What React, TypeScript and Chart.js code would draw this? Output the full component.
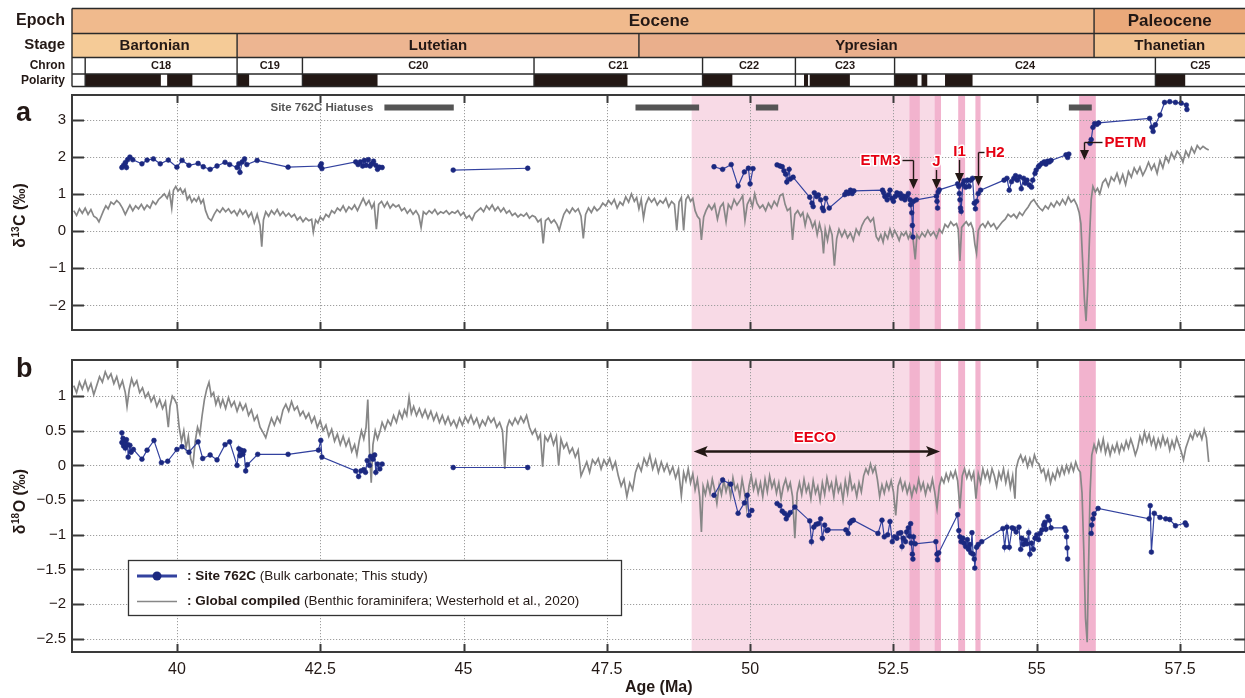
import React, { useEffect, useRef } from 'react';
import { Chart, registerables } from 'chart.js';
Chart.register(...registerables);

const FONT = '"Liberation Sans", Arial, Helvetica, sans-serif';
Chart.defaults.font.family = FONT;

// ---------- axes ----------
const AGE_MIN = 38.17;
const AGE_MAX = 58.64;
const AGE_TICKS = [40, 42.5, 45, 47.5, 50, 52.5, 55, 57.5];
const D13C_MIN = -2.66;
const D13C_MAX = 3.66;
const D13C_TICKS = [-2, -1, 0, 1, 2, 3];
const D18O_MIN = -2.69;
const D18O_MAX = 1.52;
const D18O_TICKS = [-2.5, -2, -1.5, -1, -0.5, 0, 0.5, 1];

// ---------- timescale ----------
const EPOCH_NAMES = ['Eocene', 'Paleocene'];
const EPOCH_EDGES = [AGE_MIN, 56.0, AGE_MAX];
const EOCENE_LABEL_AGE = 48.41;
const STAGE_NAMES = ['Bartonian', 'Lutetian', 'Ypresian', 'Thanetian'];
const STAGE_EDGES = [AGE_MIN, 41.05, 48.06, 56.0, AGE_MAX];
const CHRON_NAMES = ['', 'C18', 'C19', 'C20', 'C21', 'C22', 'C23', 'C24', 'C25'];
const CHRON_EDGES = [AGE_MIN, 38.4, 41.05, 42.19, 46.23, 49.17, 50.79, 52.52, 57.07, AGE_MAX];
const NORMAL_POLARITY = [
  [38.4, 39.72], [39.83, 40.27], [41.05, 41.26], [42.19, 43.5], [46.23, 47.86], [49.17, 49.69],
  [50.94, 51.01], [51.04, 51.74], [52.52, 52.92], [52.99, 53.09], [53.4, 53.88], [57.07, 57.59],
];
const HIATUSES = [[43.62, 44.83], [48.0, 49.11], [50.1, 50.49], [55.56, 55.96]];
const EECO_RANGE = [48.98, 53.33];
const EVENT_BANDS = [[52.78, 52.96], [53.22, 53.33], [53.63, 53.75], [53.93, 54.02], [55.74, 56.03]];
const EVENT_NAMES = ['ETM3', 'J', 'I1', 'H2', 'PETM'];
const EVENT_AGES = [52.84, 53.25, 53.64, 53.97, 55.83];

// ---------- Site 762C (bulk carbonate) ----------
type P = [number, number] | null;
const SITE_D13C: P[] = [
  [39.04,1.71],[39.07,1.77],[39.1,1.84],[39.12,1.71],[39.14,1.92],[39.18,1.99],[39.23,1.92],[39.39,1.81],[39.48,1.91],[39.59,1.94],[39.71,1.81],[39.85,1.91],[40.0,1.72],[40.09,1.9],[40.21,1.77],[40.37,1.82],[40.46,1.73],[40.58,1.66],[40.7,1.75],[40.84,1.85],[40.92,1.79],[41.05,1.71],[41.08,1.81],[41.1,1.58],[41.14,1.86],[41.18,1.94],[41.22,1.79],[41.4,1.9],[41.94,1.72],[42.5,1.75],[42.52,1.81],[42.53,1.68],[43.12,1.86],[43.16,1.79],[43.2,1.86],[43.24,1.75],[43.27,1.9],[43.3,1.77],[43.34,1.92],[43.37,1.75],[43.4,1.81],[43.43,1.88],[43.47,1.77],[43.5,1.66],[43.53,1.72],[43.58,1.71],
  null,
  [44.82,1.64],[46.12,1.69],
  null,
  [49.37,1.73],[49.52,1.66],[49.67,1.79],[49.79,1.21],[49.9,1.59],[49.97,1.69],[50.0,1.27],[50.05,1.68],
  null,
  [50.47,1.78],[50.52,1.75],[50.56,1.73],[50.59,1.62],[50.62,1.53],[50.64,1.32],[50.68,1.66],[50.7,1.4],[50.75,1.45],[51.04,0.91],[51.08,0.75],[51.1,0.66],[51.12,1.03],[51.16,0.93],[51.19,0.97],[51.23,0.84],[51.26,0.62],[51.28,0.55],[51.32,0.88],[51.38,0.62],[51.65,0.98],[51.68,1.05],[51.71,1.01],[51.75,1.1],[51.78,1.01],[51.81,1.08],[52.31,1.1],[52.33,1.03],[52.35,0.93],[52.39,0.84],[52.41,0.97],[52.44,1.1],[52.47,0.88],[52.5,0.8],[52.53,0.93],[52.56,1.03],[52.59,0.97],[52.62,1.01],[52.64,0.88],[52.67,0.94],[52.7,0.84],[52.73,0.93],[52.76,1.01],[52.79,0.84],[52.8,0.71],[52.82,0.49],[52.83,0.15],[52.84,-0.16],[52.85,0.8],[52.9,0.84],[53.25,0.94],[53.26,0.8],[53.27,0.62],[53.28,1.05],[53.3,1.11],[53.62,1.27],[53.64,1.2],[53.65,1.01],[53.66,0.84],[53.67,0.62],[53.68,0.53],[53.71,1.26],[53.73,1.35],[53.76,1.18],[53.79,1.37],[53.82,1.2],[53.85,1.37],[53.88,1.42],[53.91,0.75],[53.93,0.6],[53.95,0.8],[53.98,1.01],[54.02,1.1],[54.43,1.37],[54.48,1.42],[54.52,1.1],[54.56,1.33],[54.6,1.42],[54.63,1.49],[54.66,1.37],[54.7,1.46],[54.73,1.14],[54.77,1.42],[54.8,1.29],[54.83,1.37],[54.87,1.24],[54.91,1.18],[54.93,1.37],[54.97,1.55],[54.99,1.64],[55.03,1.73],[55.05,1.77],[55.09,1.82],[55.13,1.86],[55.16,1.8],[55.19,1.88],[55.22,1.86],[55.25,1.9],[55.51,2.05],[55.54,1.98],[55.56,2.07],
  null,
  [55.93,2.36],[55.95,2.46],[55.98,2.79],[56.01,2.89],[56.05,2.87],[56.08,2.91],[56.97,3.03],[57.01,2.79],[57.03,2.68],[57.07,2.86],[57.15,3.12],[57.23,3.46],[57.32,3.48],[57.42,3.46],[57.52,3.44],[57.61,3.39],[57.62,3.27],
];

const SITE_D18O: P[] = [
  [39.04,0.47],[39.04,0.33],[39.06,0.39],[39.07,0.28],[39.09,0.35],[39.1,0.25],[39.12,0.37],[39.14,0.3],[39.15,0.12],[39.18,0.29],[39.2,0.19],[39.24,0.23],[39.39,0.09],[39.48,0.22],[39.6,0.36],[39.73,0.04],[39.84,0.06],[40.0,0.23],[40.09,0.27],[40.21,0.19],[40.37,0.34],[40.45,0.1],[40.58,0.15],[40.7,0.08],[40.84,0.3],[40.92,0.34],[41.05,0.0],[41.08,0.24],[41.1,0.14],[41.12,0.22],[41.15,0.16],[41.17,0.21],[41.2,-0.08],[41.23,0.01],[41.41,0.16],[41.94,0.16],[42.47,0.22],[42.51,0.36],[42.53,0.12],[43.12,-0.08],[43.17,-0.16],[43.21,-0.08],[43.26,-0.06],[43.29,-0.1],[43.32,0.07],[43.36,0.0],[43.38,0.13],[43.42,0.09],[43.45,0.15],[43.47,-0.1],[43.5,0.02],[43.54,-0.05],[43.58,0.02],
  null,
  [44.82,-0.03],[46.12,-0.03],
  null,
  [49.37,-0.43],[49.52,-0.21],[49.66,-0.27],[49.79,-0.69],[49.9,-0.54],[49.95,-0.43],[49.98,-0.72],[50.03,-0.65],
  null,
  [50.47,-0.55],[50.52,-0.58],[50.56,-0.66],[50.6,-0.69],[50.63,-0.77],[50.66,-0.72],[50.7,-0.68],[50.78,-0.6],[51.04,-0.8],[51.07,-1.1],[51.11,-0.89],[51.15,-0.85],[51.19,-0.84],[51.23,-0.77],[51.26,-1.05],[51.3,-0.86],[51.34,-0.94],[51.36,-0.93],[51.67,-0.93],[51.71,-0.98],[51.74,-0.83],[51.77,-0.8],[51.8,-0.79],[52.23,-0.98],[52.3,-0.79],[52.34,-1.03],[52.4,-1.0],[52.44,-0.81],[52.48,-1.1],[52.52,-1.03],[52.56,-1.05],[52.59,-0.98],[52.63,-0.97],[52.65,-1.17],[52.67,-1.05],[52.71,-1.1],[52.73,-0.96],[52.76,-0.9],[52.78,-1.02],[52.8,-0.84],[52.81,-1.12],[52.83,-1.28],[52.84,-1.35],[52.85,-1.03],[52.88,-1.13],[53.24,-1.1],[53.26,-1.28],[53.27,-1.36],[53.29,-1.26],[53.62,-0.71],[53.64,-0.94],[53.66,-1.03],[53.68,-1.1],[53.71,-1.05],[53.73,-1.12],[53.76,-1.17],[53.79,-1.07],[53.81,-1.21],[53.83,-1.14],[53.85,-1.26],[53.87,-0.97],[53.89,-1.28],[53.91,-1.35],[53.92,-1.48],[53.95,-1.18],[53.98,-1.14],[54.04,-1.1],[54.41,-0.91],[54.44,-1.18],[54.48,-0.89],[54.52,-1.18],[54.57,-0.9],[54.6,-0.91],[54.64,-0.96],[54.69,-0.89],[54.72,-1.21],[54.74,-1.05],[54.77,-1.14],[54.8,-1.08],[54.83,-1.13],[54.86,-0.97],[54.88,-1.28],[54.91,-1.12],[54.94,-1.21],[54.97,-1.05],[55.0,-1.0],[55.03,-1.07],[55.06,-0.98],[55.09,-0.93],[55.12,-0.86],[55.14,-0.82],[55.16,-0.92],[55.19,-0.74],[55.22,-0.79],[55.25,-0.9],[55.49,-0.9],[55.51,-0.94],[55.52,-1.03],[55.53,-1.19],[55.54,-1.35],
  null,
  [55.95,-0.98],[55.96,-0.86],[55.98,-0.77],[56.0,-0.7],[56.07,-0.62],[56.96,-0.77],[56.98,-0.58],[57.0,-1.25],[57.05,-0.69],[57.15,-0.75],[57.25,-0.77],[57.32,-0.78],[57.42,-0.87],[57.59,-0.83],[57.61,-0.86],
];

// ---------- Global compilation (Westerhold et al., 2020) ----------
const GLOBAL_D13C: [number, number][] = [
  [38.2,0.55],[38.25,0.42],[38.3,0.6],[38.35,0.48],[38.4,0.62],[38.45,0.45],[38.5,0.58],[38.55,0.4],[38.6,0.35],[38.64,0.25],[38.68,0.4],[38.72,0.55],[38.76,0.68],[38.8,0.6],[38.85,0.78],[38.9,0.72],[38.95,0.82],[39.0,0.75],[39.05,0.62],[39.1,0.45],[39.14,0.58],[39.18,0.7],[39.23,0.55],[39.28,0.68],[39.33,0.6],[39.38,0.72],[39.43,0.58],[39.48,0.7],[39.53,0.62],[39.58,0.8],[39.63,0.72],[39.68,0.85],[39.73,0.92],[39.78,1.0],[39.83,0.88],[39.87,1.05],[39.91,0.62],[39.94,1.1],[39.98,1.2],[40.02,1.08],[40.06,1.15],[40.1,1.02],[40.14,1.12],[40.18,0.85],[40.22,0.95],[40.26,0.78],[40.3,0.88],[40.34,0.8],[40.38,0.92],[40.42,0.75],[40.46,0.85],[40.5,0.55],[40.55,0.35],[40.6,0.28],[40.65,0.45],[40.7,0.58],[40.75,0.5],[40.8,0.62],[40.85,0.52],[40.9,0.6],[40.95,0.48],[41.0,0.55],[41.05,0.42],[41.1,0.58],[41.15,0.45],[41.2,0.55],[41.25,0.38],[41.3,0.5],[41.35,0.22],[41.4,0.45],[41.45,0.15],[41.48,-0.42],[41.51,0.3],[41.55,0.52],[41.6,0.4],[41.65,0.55],[41.7,0.45],[41.75,0.58],[41.8,0.42],[41.85,0.52],[41.9,0.4],[41.95,0.48],[42.0,0.38],[42.05,0.45],[42.1,0.3],[42.15,0.38],[42.2,0.25],[42.25,0.35],[42.3,0.28],[42.35,0.32],[42.38,-0.03],[42.42,0.3],[42.46,0.22],[42.5,0.38],[42.55,0.3],[42.6,0.45],[42.65,0.38],[42.7,0.55],[42.75,0.48],[42.8,0.62],[42.85,0.55],[42.9,0.68],[42.95,0.52],[43.0,0.65],[43.05,0.58],[43.1,0.7],[43.15,0.55],[43.2,0.72],[43.25,0.88],[43.3,0.7],[43.35,0.82],[43.4,0.62],[43.44,0.75],[43.48,0.05],[43.52,0.72],[43.57,0.8],[43.62,0.65],[43.67,0.78],[43.72,0.62],[43.77,0.72],[43.82,0.65],[43.87,0.7],[43.92,0.55],[43.97,0.62],[44.02,0.48],[44.07,0.58],[44.12,0.45],[44.17,0.55],[44.22,0.42],[44.26,0.1],[44.3,0.52],[44.35,0.45],[44.4,0.55],[44.45,0.48],[44.5,0.58],[44.55,0.45],[44.6,0.52],[44.65,0.48],[44.7,0.55],[44.75,0.45],[44.8,0.52],[44.85,0.48],[44.9,0.55],[44.95,0.42],[45.0,0.5],[45.05,0.35],[45.1,0.42],[45.15,0.3],[45.2,0.48],[45.25,0.55],[45.3,0.62],[45.35,0.52],[45.4,0.68],[45.45,0.58],[45.5,0.7],[45.55,0.55],[45.6,0.65],[45.65,0.52],[45.7,0.62],[45.75,0.48],[45.8,0.55],[45.85,0.42],[45.9,0.48],[45.95,0.38],[46.0,0.45],[46.05,0.4],[46.1,0.48],[46.15,0.35],[46.2,0.42],[46.25,0.38],[46.3,0.25],[46.35,0.32],[46.39,-0.33],[46.43,0.28],[46.48,0.35],[46.53,0.22],[46.58,0.3],[46.63,0.18],[46.67,0.02],[46.71,0.25],[46.75,0.45],[46.8,0.58],[46.85,0.48],[46.9,0.62],[46.95,0.52],[47.0,0.6],[47.05,0.4],[47.09,-0.2],[47.13,0.45],[47.18,0.62],[47.23,0.5],[47.28,0.65],[47.33,0.55],[47.38,0.62],[47.43,0.75],[47.48,0.68],[47.53,0.82],[47.58,0.72],[47.63,0.85],[47.68,0.62],[47.73,0.78],[47.78,0.7],[47.83,0.92],[47.88,0.78],[47.93,1.0],[47.98,0.8],[48.02,0.9],[48.06,0.6],[48.1,0.85],[48.14,0.35],[48.18,0.72],[48.23,0.9],[48.28,0.78],[48.33,0.88],[48.38,0.7],[48.43,0.82],[48.48,0.75],[48.53,0.88],[48.58,0.65],[48.63,0.8],[48.68,0.72],[48.72,0.02],[48.76,0.78],[48.8,0.9],[48.84,0.02],[48.88,0.85],[48.92,0.95],[48.96,0.8],[49.0,0.88],[49.04,0.55],[49.08,0.4],[49.12,0.32],[49.15,-0.24],[49.19,0.38],[49.23,0.55],[49.28,0.7],[49.33,0.58],[49.38,0.72],[49.43,0.32],[49.48,0.65],[49.53,0.75],[49.58,0.25],[49.62,0.72],[49.67,0.6],[49.72,0.85],[49.77,0.7],[49.82,0.82],[49.87,0.95],[49.91,0.28],[49.95,0.72],[50.0,0.88],[50.04,0.65],[50.08,1.0],[50.12,0.75],[50.17,0.62],[50.22,0.7],[50.27,0.55],[50.32,0.75],[50.37,0.62],[50.42,0.8],[50.47,0.68],[50.52,0.95],[50.57,1.0],[50.61,0.72],[50.65,0.55],[50.7,0.62],[50.74,-0.24],[50.78,0.45],[50.83,0.55],[50.88,0.4],[50.92,0.5],[50.96,0.15],[51.0,0.45],[51.05,0.3],[51.09,0.1],[51.13,0.25],[51.17,-0.1],[51.21,0.2],[51.25,-0.05],[51.28,-0.6],[51.31,0.05],[51.35,-0.25],[51.39,0.1],[51.43,-0.1],[51.47,-0.93],[51.51,-0.2],[51.55,0.05],[51.6,-0.15],[51.65,0.02],[51.7,-0.18],[51.75,-0.05],[51.8,-0.25],[51.85,0.05],[51.9,-0.1],[51.95,0.15],[52.0,0.3],[52.05,0.38],[52.1,0.25],[52.15,0.35],[52.2,-0.15],[52.24,-0.25],[52.28,-0.1],[52.32,-0.3],[52.35,-0.05],[52.4,-0.2],[52.44,0.05],[52.48,-0.15],[52.52,0.02],[52.56,-0.1],[52.6,-0.25],[52.64,-0.05],[52.68,-0.12],[52.72,-0.02],[52.76,-0.2],[52.8,-0.05],[52.84,-0.18],[52.88,-0.76],[52.91,-0.1],[52.95,-0.2],[53.0,-0.05],[53.05,-0.15],[53.1,0.02],[53.15,-0.12],[53.2,-0.02],[53.25,-0.18],[53.3,0.05],[53.35,-0.05],[53.4,0.18],[53.45,0.1],[53.5,0.25],[53.55,0.15],[53.6,0.2],[53.63,0.05],[53.66,-0.8],[53.69,0.1],[53.73,0.18],[53.77,0.25],[53.81,0.15],[53.85,0.22],[53.89,0.05],[53.92,-0.35],[53.95,-0.6],[53.98,0.02],[54.02,0.15],[54.06,0.2],[54.1,0.1],[54.15,0.25],[54.2,0.12],[54.25,0.2],[54.3,0.05],[54.35,0.15],[54.4,0.25],[54.45,0.32],[54.5,0.45],[54.55,0.38],[54.6,0.45],[54.65,0.35],[54.7,0.5],[54.75,0.42],[54.8,0.55],[54.85,0.65],[54.9,0.78],[54.95,0.85],[55.0,0.72],[55.05,0.62],[55.1,0.55],[55.15,0.68],[55.2,0.6],[55.25,0.75],[55.3,0.65],[55.35,0.8],[55.4,0.7],[55.45,0.85],[55.5,0.72],[55.55,0.92],[55.6,0.78],[55.65,0.85],[55.7,0.7],[55.74,0.5],[55.77,0.2],[55.8,-0.8],[55.83,-1.8],[55.86,-2.42],[55.89,-1.5],[55.92,-0.2],[55.95,0.85],[55.98,1.2],[56.02,1.05],[56.06,1.15],[56.1,1.0],[56.15,1.3],[56.2,1.4],[56.25,1.2],[56.3,1.45],[56.35,1.35],[56.4,1.55],[56.45,1.3],[56.5,1.52],[56.55,1.25],[56.6,1.6],[56.65,1.45],[56.7,1.7],[56.75,1.55],[56.8,1.72],[56.85,1.5],[56.9,1.65],[56.95,1.85],[57.0,1.65],[57.05,1.8],[57.1,1.55],[57.15,1.9],[57.2,1.7],[57.25,2.0],[57.3,1.85],[57.35,2.1],[57.4,1.95],[57.45,2.15],[57.5,2.05],[57.55,1.85],[57.6,2.15],[57.65,2.0],[57.7,2.25],[57.75,2.1],[57.8,2.3],[57.85,2.2],[57.9,2.28],[57.95,2.22],[58.0,2.18],
];

const GLOBAL_D18O: [number, number][] = [
  [38.2,1.15],[38.25,1.05],[38.3,1.2],[38.35,1.1],[38.4,1.22],[38.45,1.08],[38.5,1.18],[38.55,1.02],[38.6,1.15],[38.65,1.28],[38.7,1.2],[38.75,1.35],[38.8,1.25],[38.85,1.32],[38.9,1.18],[38.95,1.28],[39.0,1.12],[39.05,1.22],[39.1,1.05],[39.13,0.85],[39.17,1.1],[39.21,1.25],[39.25,1.15],[39.3,1.22],[39.35,1.05],[39.4,1.12],[39.45,0.98],[39.5,1.05],[39.55,0.92],[39.6,1.0],[39.65,0.85],[39.7,0.95],[39.75,0.82],[39.8,0.92],[39.85,0.55],[39.88,0.85],[39.92,1.0],[39.96,0.95],[40.0,0.88],[40.04,0.55],[40.08,0.35],[40.12,0.5],[40.16,0.25],[40.2,0.42],[40.24,0.1],[40.28,0.0],[40.32,0.35],[40.36,0.55],[40.4,0.45],[40.44,0.72],[40.48,0.95],[40.52,1.1],[40.56,1.2],[40.6,1.0],[40.64,1.05],[40.68,0.88],[40.72,0.98],[40.76,0.85],[40.8,0.95],[40.85,0.82],[40.9,0.98],[40.95,0.85],[41.0,0.92],[41.05,0.78],[41.1,0.9],[41.15,0.8],[41.2,0.88],[41.25,0.72],[41.3,0.8],[41.35,0.65],[41.4,0.72],[41.45,0.55],[41.5,0.48],[41.55,0.4],[41.6,0.55],[41.65,0.68],[41.7,0.58],[41.75,0.7],[41.8,0.62],[41.85,0.8],[41.9,0.88],[41.95,0.78],[42.0,0.92],[42.05,0.8],[42.1,0.85],[42.15,0.72],[42.2,0.78],[42.25,0.68],[42.3,0.75],[42.35,0.62],[42.4,0.7],[42.45,0.55],[42.5,0.65],[42.55,0.5],[42.6,0.58],[42.65,0.42],[42.7,0.52],[42.75,0.35],[42.8,0.45],[42.85,0.3],[42.9,0.42],[42.95,0.28],[43.0,0.38],[43.05,0.2],[43.1,0.3],[43.14,0.15],[43.18,0.35],[43.22,0.5],[43.26,0.38],[43.3,0.55],[43.33,0.95],[43.36,0.2],[43.39,-0.25],[43.42,0.3],[43.46,0.5],[43.5,0.38],[43.54,0.48],[43.58,0.62],[43.63,0.52],[43.68,0.65],[43.73,0.58],[43.78,0.72],[43.83,0.62],[43.88,0.78],[43.93,0.68],[43.97,0.8],[44.01,0.72],[44.05,0.98],[44.09,0.75],[44.13,0.85],[44.18,0.72],[44.23,0.82],[44.28,0.7],[44.33,0.8],[44.38,0.68],[44.43,0.78],[44.48,0.65],[44.53,0.75],[44.58,0.62],[44.63,0.72],[44.68,0.6],[44.73,0.7],[44.78,0.58],[44.83,0.65],[44.88,0.55],[44.93,0.68],[44.98,0.58],[45.03,0.7],[45.08,0.62],[45.13,0.72],[45.18,0.6],[45.23,0.68],[45.28,0.55],[45.33,0.65],[45.38,0.58],[45.43,0.7],[45.48,0.62],[45.53,0.68],[45.58,0.55],[45.63,0.62],[45.68,0.5],[45.72,-0.05],[45.76,0.55],[45.8,0.65],[45.85,0.58],[45.9,0.68],[45.95,0.6],[46.0,0.7],[46.05,0.62],[46.1,0.72],[46.15,0.55],[46.2,0.45],[46.25,0.52],[46.3,0.38],[46.34,0.45],[46.38,-0.02],[46.42,0.42],[46.47,0.35],[46.52,0.45],[46.57,0.3],[46.62,0.42],[46.66,0.0],[46.7,0.38],[46.75,0.25],[46.8,0.32],[46.85,0.18],[46.9,0.25],[46.95,0.12],[47.0,0.22],[47.05,-0.15],[47.1,-0.05],[47.15,0.05],[47.2,-0.1],[47.25,0.08],[47.3,0.02],[47.35,0.1],[47.4,-0.05],[47.45,0.08],[47.5,0.0],[47.55,0.1],[47.6,-0.05],[47.65,0.05],[47.7,-0.15],[47.75,-0.3],[47.8,-0.2],[47.85,-0.45],[47.9,-0.25],[47.95,-0.35],[48.0,-0.1],[48.05,0.02],[48.1,-0.08],[48.15,0.1],[48.2,0.0],[48.25,0.15],[48.3,-0.05],[48.35,0.08],[48.4,-0.1],[48.45,0.05],[48.5,-0.08],[48.55,0.02],[48.6,-0.12],[48.65,-0.02],[48.7,-0.18],[48.75,-0.05],[48.8,-0.44],[48.84,-0.1],[48.88,-0.22],[48.92,-0.05],[48.96,-0.25],[49.0,-0.12],[49.04,-0.35],[49.08,-0.2],[49.12,-0.45],[49.15,-0.96],[49.18,-0.3],[49.22,-0.42],[49.26,-0.25],[49.3,-0.4],[49.34,-0.2],[49.38,-0.35],[49.42,-0.55],[49.46,-0.28],[49.5,-0.42],[49.54,-0.22],[49.58,-0.38],[49.62,-0.25],[49.66,-0.45],[49.7,-0.18],[49.74,-0.35],[49.78,-0.28],[49.82,-0.45],[49.86,-0.2],[49.9,-0.38],[49.94,-0.62],[49.98,-0.3],[50.02,-0.15],[50.06,-0.35],[50.1,-0.22],[50.14,-0.4],[50.18,-0.25],[50.22,-0.45],[50.26,-0.2],[50.3,-0.38],[50.34,-0.15],[50.38,-0.32],[50.42,-0.22],[50.46,-0.4],[50.5,-0.25],[50.54,-0.48],[50.58,-0.3],[50.62,-0.2],[50.66,-0.35],[50.7,-0.25],[50.74,-0.45],[50.78,-1.05],[50.82,-0.4],[50.86,-0.25],[50.9,-0.42],[50.94,-0.2],[50.98,-0.38],[51.02,-0.28],[51.06,-0.48],[51.1,-0.22],[51.14,-0.4],[51.18,-0.3],[51.22,-0.5],[51.26,-0.25],[51.3,-0.42],[51.34,-0.18],[51.38,-0.35],[51.42,-0.25],[51.46,-0.45],[51.5,-0.2],[51.54,-0.38],[51.58,-0.28],[51.62,-0.5],[51.66,-0.22],[51.7,-0.4],[51.74,-0.15],[51.78,-0.35],[51.82,-0.28],[51.86,-0.45],[51.9,-0.25],[51.94,-0.38],[51.98,-0.15],[52.02,-0.05],[52.06,-0.12],[52.1,0.02],[52.14,-0.1],[52.18,-0.02],[52.22,-0.2],[52.26,-0.45],[52.3,-0.28],[52.34,-0.4],[52.38,-0.25],[52.42,-0.35],[52.46,-0.22],[52.5,-0.38],[52.54,-0.72],[52.58,-0.3],[52.62,-0.2],[52.66,-0.35],[52.7,-0.25],[52.74,-0.4],[52.78,-0.28],[52.82,-0.45],[52.86,-0.3],[52.9,-0.38],[52.94,-0.2],[52.98,-0.35],[53.02,-0.25],[53.06,-0.42],[53.1,-0.28],[53.14,-0.36],[53.18,-0.2],[53.22,-0.38],[53.26,-0.62],[53.3,-0.3],[53.34,-0.18],[53.38,-0.25],[53.42,-0.12],[53.46,-0.22],[53.5,-0.1],[53.54,-0.18],[53.58,-0.08],[53.62,-0.22],[53.66,-0.62],[53.7,-0.15],[53.74,-0.05],[53.78,-0.18],[53.82,-0.08],[53.86,-0.2],[53.9,-0.1],[53.94,-0.48],[53.98,-0.12],[54.02,-0.25],[54.06,-0.05],[54.1,-0.18],[54.14,-0.08],[54.18,-0.22],[54.22,-0.05],[54.26,-0.15],[54.3,-0.3],[54.34,-0.1],[54.38,-0.2],[54.42,-0.05],[54.46,-0.25],[54.5,-0.1],[54.54,-0.32],[54.58,-0.15],[54.62,-0.48],[54.64,-0.05],[54.68,0.08],[54.72,0.15],[54.76,0.05],[54.8,0.12],[54.84,-0.02],[54.88,0.1],[54.92,0.0],[54.96,0.15],[55.0,0.05],[55.04,0.02],[55.08,-0.1],[55.12,-0.05],[55.16,-0.2],[55.2,-0.08],[55.24,-0.25],[55.28,-0.12],[55.32,-0.2],[55.36,-0.05],[55.4,-0.15],[55.44,-0.02],[55.48,-0.12],[55.52,0.0],[55.56,-0.1],[55.6,0.02],[55.64,-0.08],[55.68,0.05],[55.72,-0.05],[55.76,-0.1],[55.79,-0.4],[55.82,-1.2],[55.85,-2.2],[55.88,-2.55],[55.9,-1.6],[55.93,-0.4],[55.96,0.15],[56.0,0.3],[56.04,0.2],[56.08,0.35],[56.12,0.22],[56.16,0.38],[56.2,0.18],[56.24,0.3],[56.28,0.15],[56.32,0.28],[56.36,0.2],[56.4,0.32],[56.44,0.18],[56.48,0.3],[56.52,0.22],[56.56,0.35],[56.6,0.25],[56.64,0.38],[56.68,0.28],[56.72,0.15],[56.76,0.25],[56.8,0.42],[56.84,0.32],[56.88,0.48],[56.92,0.35],[56.96,0.45],[57.0,0.3],[57.04,0.4],[57.08,0.25],[57.12,0.38],[57.16,0.28],[57.2,0.42],[57.24,0.3],[57.28,0.38],[57.32,0.22],[57.36,0.35],[57.4,0.25],[57.44,0.4],[57.48,0.3],[57.52,0.2],[57.56,0.08],[57.6,0.25],[57.64,0.35],[57.68,0.45],[57.72,0.38],[57.76,0.5],[57.8,0.42],[57.84,0.48],[57.88,0.38],[57.92,0.52],[57.96,0.4],[58.0,0.05],
];

// ---------- styles ----------
const EPOCH_FILL = ['#F0BA8D', '#EBA97A'];
const STAGE_FILL = ['#F5CB97', '#EDB591', '#EAAF8C', '#F2C392'];
const INK = '#231815';
const FRAME = '#3A3A3A';
const RED = '#E60012';
const BLUE_LINE = '#33429F';
const BLUE_PT = '#1B2880';
const GRAY = '#878787';
const PINK_LIGHT = '#F8DAE6';
const PINK_DARK = '#F2B3CE';

const toXY = (arr: P[]) => {
  const out: { x: number; y: number | null }[] = [];
  let lastX = AGE_MIN;
  for (const p of arr) {
    if (p) { out.push({ x: p[0], y: p[1] }); lastX = p[0]; }
    else out.push({ x: lastX + 0.001, y: null });
  }
  return out;
};
const fmt = (v: number) => (v < 0 ? '\u2212' : '') + String(Math.abs(v));

function drawBands(chart: any) {
  const { ctx, chartArea: a, scales: { x } } = chart;
  ctx.save();
  ctx.beginPath();
  ctx.rect(a.left, a.top, a.right - a.left, a.bottom - a.top);
  ctx.clip();
  ctx.fillStyle = PINK_LIGHT;
  const e0 = x.getPixelForValue(EECO_RANGE[0]);
  const e1 = x.getPixelForValue(EECO_RANGE[1]);
  ctx.fillRect(e0, a.top, e1 - e0, a.bottom - a.top);
  ctx.fillStyle = PINK_DARK;
  for (const [s, e] of EVENT_BANDS) {
    const p0 = x.getPixelForValue(s), p1 = x.getPixelForValue(e);
    ctx.fillRect(p0, a.top, p1 - p0, a.bottom - a.top);
  }
  ctx.restore();
}

function drawGrid(chart: any, yTicks: number[]) {
  const { ctx, chartArea: a, scales: { x, y } } = chart;
  ctx.save();
  ctx.strokeStyle = '#9E9E9E';
  ctx.lineWidth = 1;
  ctx.setLineDash([1.2, 1.8]);
  ctx.beginPath();
  for (const t of AGE_TICKS) {
    const p = Math.round(x.getPixelForValue(t)) + 0.5;
    ctx.moveTo(p, a.top); ctx.lineTo(p, a.bottom);
  }
  for (const t of yTicks) {
    const p = Math.round(y.getPixelForValue(t)) + 0.5;
    ctx.moveTo(a.left, p); ctx.lineTo(a.right, p);
  }
  ctx.stroke();
  ctx.restore();
}

function drawFrame(chart: any, yTicks: number[]) {
  const { ctx, chartArea: a, scales: { x, y } } = chart;
  ctx.save();
  ctx.strokeStyle = FRAME;
  ctx.lineWidth = 2;
  ctx.strokeRect(a.left, a.top, a.right - a.left, a.bottom - a.top);
  ctx.beginPath();
  for (const t of yTicks) {
    const p = Math.round(y.getPixelForValue(t)) + 0.5;
    ctx.moveTo(a.left, p); ctx.lineTo(a.left + 12, p);
    ctx.moveTo(a.right - 11, p); ctx.lineTo(a.right, p);
  }
  for (const t of AGE_TICKS) {
    const p = Math.round(x.getPixelForValue(t)) + 0.5;
    ctx.moveTo(p, a.top); ctx.lineTo(p, a.top + 8);
    ctx.moveTo(p, a.bottom - 8); ctx.lineTo(p, a.bottom);
  }
  ctx.stroke();
  ctx.restore();
}

function drawYTitle(ctx: CanvasRenderingContext2D, iso: string, rest: string, cy: number) {
  ctx.save();
  ctx.translate(19, cy);
  ctx.rotate(-Math.PI / 2);
  ctx.fillStyle = INK;
  ctx.textBaseline = 'alphabetic';
  ctx.textAlign = 'left';
  const big = `bold 16px ${FONT}`;
  const small = `bold 10px ${FONT}`;
  ctx.font = big; const w1 = ctx.measureText('\u03B4').width;
  ctx.font = small; const w2 = ctx.measureText(iso).width;
  ctx.font = big; const w3 = ctx.measureText(rest).width;
  const x0 = -(w1 + w2 + w3) / 2;
  ctx.font = big; ctx.fillText('\u03B4', x0, 6);
  ctx.font = small; ctx.fillText(iso, x0 + w1 + 0.5, -0.5);
  ctx.font = big; ctx.fillText(rest, x0 + w1 + w2 + 1, 6);
  ctx.restore();
}

function drawLetter(ctx: CanvasRenderingContext2D, t: string, baseline: number) {
  ctx.save();
  ctx.fillStyle = INK;
  ctx.font = `bold 27px ${FONT}`;
  ctx.textAlign = 'left';
  ctx.textBaseline = 'alphabetic';
  ctx.fillText(t, 16, baseline);
  ctx.restore();
}

function drawHeader(chart: any) {
  const { ctx, chartArea: a, scales: { x } } = chart;
  const px = (v: number) => Math.min(Math.max(x.getPixelForValue(v), a.left), a.right);
  const ROW = { e: [8.5, 33.5], s: [33.5, 57.5], c: [57.5, 74], p: [74, 86.5] };
  ctx.save();
  for (let i = 0; i < EPOCH_NAMES.length; i++) {
    ctx.fillStyle = EPOCH_FILL[i];
    ctx.fillRect(px(EPOCH_EDGES[i]), ROW.e[0], px(EPOCH_EDGES[i + 1]) - px(EPOCH_EDGES[i]), ROW.e[1] - ROW.e[0]);
  }
  for (let i = 0; i < STAGE_NAMES.length; i++) {
    ctx.fillStyle = STAGE_FILL[i];
    ctx.fillRect(px(STAGE_EDGES[i]), ROW.s[0], px(STAGE_EDGES[i + 1]) - px(STAGE_EDGES[i]), ROW.s[1] - ROW.s[0]);
  }
  ctx.fillStyle = '#fff';
  ctx.fillRect(a.left, ROW.c[0], a.right - a.left, ROW.p[1] - ROW.c[0]);
  ctx.fillStyle = INK;
  for (const [s, e] of NORMAL_POLARITY) {
    ctx.fillRect(px(s), ROW.p[0], px(e) - px(s), ROW.p[1] - ROW.p[0]);
  }
  ctx.strokeStyle = '#2A2A2A';
  ctx.lineWidth = 1.4;
  ctx.beginPath();
  for (const yy of [ROW.e[0], ROW.e[1], ROW.s[1], ROW.c[1], ROW.p[1]]) {
    ctx.moveTo(a.left, yy); ctx.lineTo(a.right, yy);
  }
  ctx.moveTo(a.left, ROW.e[0]); ctx.lineTo(a.left, ROW.p[1]);
  for (let i = 1; i < EPOCH_EDGES.length - 1; i++) { const p = px(EPOCH_EDGES[i]); ctx.moveTo(p, ROW.e[0]); ctx.lineTo(p, ROW.e[1]); }
  for (let i = 1; i < STAGE_EDGES.length - 1; i++) { const p = px(STAGE_EDGES[i]); ctx.moveTo(p, ROW.s[0]); ctx.lineTo(p, ROW.s[1]); }
  for (let i = 1; i < CHRON_EDGES.length - 1; i++) { const p = px(CHRON_EDGES[i]); ctx.moveTo(p, ROW.c[0]); ctx.lineTo(p, ROW.p[1]); }
  ctx.stroke();
  ctx.fillStyle = INK;
  ctx.textBaseline = 'middle';
  ctx.textAlign = 'center';
  ctx.font = `bold 17px ${FONT}`;
  ctx.fillText(EPOCH_NAMES[0], x.getPixelForValue(EOCENE_LABEL_AGE), 21.5);
  ctx.fillText(EPOCH_NAMES[1], (px(EPOCH_EDGES[1]) + px(EPOCH_EDGES[2])) / 2, 21.5);
  ctx.font = `bold 15px ${FONT}`;
  for (let i = 0; i < STAGE_NAMES.length; i++) {
    ctx.fillText(STAGE_NAMES[i], (px(STAGE_EDGES[i]) + px(STAGE_EDGES[i + 1])) / 2, 46);
  }
  ctx.font = `bold 11px ${FONT}`;
  for (let i = 0; i < CHRON_NAMES.length; i++) {
    if (CHRON_NAMES[i]) ctx.fillText(CHRON_NAMES[i], (px(CHRON_EDGES[i]) + px(CHRON_EDGES[i + 1])) / 2, 66);
  }
  ctx.textAlign = 'right';
  ctx.font = `bold 16px ${FONT}`;
  ctx.fillText('Epoch', 65, 20.5);
  ctx.font = `bold 15px ${FONT}`;
  ctx.fillText('Stage', 65, 45);
  ctx.font = `bold 12px ${FONT}`;
  ctx.fillText('Chron', 65, 66);
  ctx.fillText('Polarity', 65, 80.5);
  ctx.restore();
}

function drawHiatuses(chart: any) {
  const { ctx, scales: { x } } = chart;
  ctx.save();
  ctx.fillStyle = '#555555';
  for (const [s, e] of HIATUSES) {
    const p0 = x.getPixelForValue(s), p1 = x.getPixelForValue(e);
    ctx.fillRect(p0, 104.5, p1 - p0, 6);
  }
  ctx.font = `bold 11.5px ${FONT}`;
  ctx.textAlign = 'right';
  ctx.textBaseline = 'middle';
  ctx.fillText('Site 762C Hiatuses', x.getPixelForValue(HIATUSES[0][0]) - 11, 108);
  ctx.restore();
}

function arrowDown(ctx: CanvasRenderingContext2D, ax: number, y1: number, y2: number) {
  ctx.beginPath();
  ctx.moveTo(ax, y1); ctx.lineTo(ax, y2 - 8);
  ctx.stroke();
  ctx.beginPath();
  ctx.moveTo(ax - 4.5, y2 - 10); ctx.lineTo(ax + 4.5, y2 - 10); ctx.lineTo(ax, y2);
  ctx.closePath(); ctx.fill();
}

function redLabel(ctx: CanvasRenderingContext2D, t: string, x: number, y: number, align: CanvasTextAlign) {
  ctx.save();
  ctx.font = `bold 15px ${FONT}`;
  ctx.textAlign = align;
  ctx.textBaseline = 'middle';
  ctx.lineJoin = 'round';
  ctx.strokeStyle = '#ffffff';
  ctx.lineWidth = 3;
  ctx.strokeText(t, x, y);
  ctx.fillStyle = RED;
  ctx.fillText(t, x, y);
  ctx.restore();
}

function drawEvents(chart: any) {
  const { ctx, scales: { x } } = chart;
  const ax = EVENT_AGES.map((v) => Math.round(x.getPixelForValue(v)) + 0.5);
  ctx.save();
  ctx.strokeStyle = INK;
  ctx.fillStyle = INK;
  ctx.lineWidth = 1.4;
  ctx.beginPath(); ctx.moveTo(ax[0] - 11, 160.5); ctx.lineTo(ax[0], 160.5); ctx.stroke();
  arrowDown(ctx, ax[0], 160.5, 189);
  arrowDown(ctx, ax[1], 170, 189);
  arrowDown(ctx, ax[2], 160, 183);
  ctx.beginPath(); ctx.moveTo(ax[3], 152.5); ctx.lineTo(ax[3] + 6, 152.5); ctx.stroke();
  arrowDown(ctx, ax[3], 152.5, 186);
  ctx.beginPath(); ctx.moveTo(ax[4], 142.5); ctx.lineTo(ax[4] + 18, 142.5); ctx.stroke();
  arrowDown(ctx, ax[4], 142.5, 160);
  ctx.restore();
  redLabel(ctx, EVENT_NAMES[0], ax[0] - 13, 160.5, 'right');
  redLabel(ctx, EVENT_NAMES[1], ax[1], 162, 'center');
  redLabel(ctx, EVENT_NAMES[2], ax[2], 152, 'center');
  redLabel(ctx, EVENT_NAMES[3], ax[3] + 7, 152.5, 'left');
  redLabel(ctx, EVENT_NAMES[4], ax[4] + 20, 142.5, 'left');
}

function drawEECO(chart: any) {
  const { ctx, scales: { x } } = chart;
  const x0 = x.getPixelForValue(EECO_RANGE[0]) + 2;
  const x1 = x.getPixelForValue(EECO_RANGE[1]) - 1;
  const yy = 106.5;
  ctx.save();
  ctx.strokeStyle = INK;
  ctx.fillStyle = INK;
  ctx.lineWidth = 2.4;
  ctx.beginPath(); ctx.moveTo(x0 + 10, yy); ctx.lineTo(x1 - 10, yy); ctx.stroke();
  ctx.beginPath(); ctx.moveTo(x0, yy); ctx.lineTo(x0 + 14, yy - 5.5); ctx.lineTo(x0 + 11, yy); ctx.lineTo(x0 + 14, yy + 5.5); ctx.closePath(); ctx.fill();
  ctx.beginPath(); ctx.moveTo(x1, yy); ctx.lineTo(x1 - 14, yy - 5.5); ctx.lineTo(x1 - 11, yy); ctx.lineTo(x1 - 14, yy + 5.5); ctx.closePath(); ctx.fill();
  ctx.restore();
  redLabel(ctx, 'EECO', x.getPixelForValue(51.13), 92.5, 'center');
}

function drawLegend(ctx: CanvasRenderingContext2D) {
  ctx.save();
  ctx.fillStyle = '#ffffff';
  ctx.fillRect(128.5, 215.5, 493, 55);
  ctx.strokeStyle = '#333333';
  ctx.lineWidth = 1.3;
  ctx.strokeRect(128.5, 215.5, 493, 55);
  ctx.strokeStyle = BLUE_LINE;
  ctx.lineWidth = 3;
  ctx.beginPath(); ctx.moveTo(137, 231); ctx.lineTo(177, 231); ctx.stroke();
  ctx.fillStyle = BLUE_PT;
  ctx.beginPath(); ctx.arc(157, 231, 4.5, 0, Math.PI * 2); ctx.fill();
  ctx.strokeStyle = GRAY;
  ctx.lineWidth = 1.4;
  ctx.beginPath(); ctx.moveTo(137, 256.5); ctx.lineTo(177, 256.5); ctx.stroke();
  ctx.fillStyle = INK;
  ctx.textBaseline = 'middle';
  ctx.textAlign = 'left';
  const bold = `bold 13.5px ${FONT}`, reg = `13.5px ${FONT}`;
  ctx.font = bold; ctx.fillText(': Site 762C', 187, 231);
  let w = ctx.measureText(': Site 762C').width;
  ctx.font = reg; ctx.fillText(' (Bulk carbonate; This study)', 187 + w, 231);
  ctx.font = bold; ctx.fillText(': Global compiled', 187, 256.5);
  w = ctx.measureText(': Global compiled').width;
  ctx.font = reg; ctx.fillText(' (Benthic foraminifera; Westerhold et al., 2020)', 187 + w, 256.5);
  ctx.restore();
}

const panelAPlugin = {
  id: 'panelA',
  beforeDatasetsDraw(chart: any) {
    drawBands(chart);
    drawGrid(chart, D13C_TICKS);
    drawHiatuses(chart);
  },
  afterDatasetsDraw(chart: any) {
    drawFrame(chart, D13C_TICKS);
    drawEvents(chart);
    drawHeader(chart);
    drawYTitle(chart.ctx, '13', 'C (\u2030)', 216);
    drawLetter(chart.ctx, 'a', 121);
  },
};

const panelBPlugin = {
  id: 'panelB',
  beforeDatasetsDraw(chart: any) {
    drawBands(chart);
    drawGrid(chart, D18O_TICKS);
  },
  afterDatasetsDraw(chart: any) {
    drawFrame(chart, D18O_TICKS);
    drawEECO(chart);
    drawLegend(chart.ctx);
    drawYTitle(chart.ctx, '18', 'O (\u2030)', 157);
    drawLetter(chart.ctx, 'b', 32);
  },
};

function datasets(site: P[], global: [number, number][]) {
  return [
    {
      data: toXY(site),
      borderColor: BLUE_LINE,
      borderWidth: 1.2,
      pointRadius: 2.4,
      pointBackgroundColor: BLUE_PT,
      pointBorderColor: BLUE_PT,
      pointBorderWidth: 0.6,
      spanGaps: false,
      fill: false,
    },
    {
      data: global.map(([a, v]) => ({ x: a, y: v })),
      borderColor: GRAY,
      borderWidth: 1.7,
      borderJoinStyle: 'miter',
      pointRadius: 0,
      fill: false,
    },
  ];
}

function yScale(min: number, max: number, ticks: number[]) {
  return {
    type: 'linear',
    min, max,
    grid: { display: false, drawTicks: false },
    border: { display: false },
    afterBuildTicks: (s: any) => { s.ticks = ticks.map((v) => ({ value: v })); },
    afterFit: (s: any) => { s.width = 72; },
    ticks: { color: INK, font: { size: 15 }, padding: 6, callback: (v: any) => fmt(Number(v)) },
  };
}

export default function App() {
  const refA = useRef<HTMLCanvasElement>(null);
  const refB = useRef<HTMLCanvasElement>(null);
  useEffect(() => {
    const common = {
      animation: false,
      responsive: false,
      events: [],
      plugins: { legend: { display: false }, tooltip: { enabled: false } },
    };
    const a = new Chart(refA.current!, {
      type: 'line',
      data: { datasets: datasets(SITE_D13C, GLOBAL_D13C) as any },
      options: {
        ...common,
        layout: { padding: { top: 95, bottom: 7, left: 0, right: 4 } },
        scales: {
          x: { type: 'linear', min: AGE_MIN, max: AGE_MAX, display: false },
          y: yScale(D13C_MIN, D13C_MAX, D13C_TICKS),
        },
      } as any,
      plugins: [panelAPlugin],
    });
    const b = new Chart(refB.current!, {
      type: 'line',
      data: { datasets: datasets(SITE_D18O, GLOBAL_D18O) as any },
      options: {
        ...common,
        layout: { padding: { top: 7, bottom: 0, left: 0, right: 4 } },
        scales: {
          x: {
            type: 'linear', min: AGE_MIN, max: AGE_MAX,
            grid: { display: false, drawTicks: false },
            border: { display: false },
            afterBuildTicks: (s: any) => { s.ticks = AGE_TICKS.map((v) => ({ value: v })); },
            afterFit: (s: any) => { s.height = 46; },
            ticks: { color: INK, font: { size: 16 }, padding: 8, autoSkip: false, maxRotation: 0, callback: (v: any) => fmt(Number(v)) },
            title: { display: true, text: 'Age (Ma)', color: INK, font: { size: 16, weight: 'bold' }, padding: { top: 2, bottom: 1 } },
          },
          y: yScale(D18O_MIN, D18O_MAX, D18O_TICKS),
        },
      } as any,
      plugins: [panelBPlugin],
    });
    return () => { a.destroy(); b.destroy(); };
  }, []);
  return (
    <div style={{ position: 'absolute', left: 0, top: 0, width: 1245, height: 698, overflow: 'hidden', background: '#fff' }}>
      <canvas ref={refA} width={1250} height={345} style={{ position: 'absolute', left: 0, top: 0, display: 'block' }} />
      <canvas ref={refB} width={1250} height={353} style={{ position: 'absolute', left: 0, top: 345, display: 'block' }} />
    </div>
  );
}
